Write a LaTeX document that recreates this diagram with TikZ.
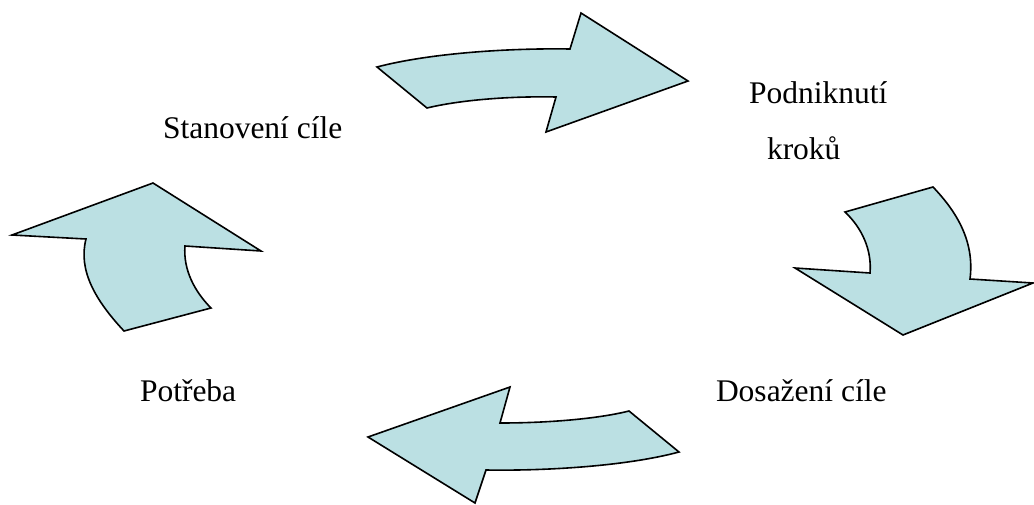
\documentclass[tikz,border=0pt]{standalone}
\usepackage{fontspec}
\setmainfont{Liberation Serif}
\definecolor{arrowfill}{RGB}{187,224,227}
\tikzset{
  bigarrow/.style={draw=black, line width=1.6pt, fill=arrowfill, line join=miter},
  lbl/.style={inner sep=0pt, outer sep=0pt, anchor=base west, font=\fontsize{31.5}{36}\selectfont}
}
\begin{document}
\begin{tikzpicture}[x=1pt,y=-1pt]
\useasboundingbox (0,0) rectangle (1034,504);
% top arrow (to the right)
\draw[bigarrow] (377,67) .. controls (430,53) and (510,48) .. (570,49)
  -- (581,13) -- (688,81) -- (546,132) -- (556,97)
  .. controls (510,96) and (460,100) .. (427,108) -- cycle;
% right arrow (downwards)
\draw[bigarrow] (933,187) -- (845,212)
  .. controls (862,228) and (872,250) .. (870,273)
  -- (795,268) -- (903,335) -- (1033,283) -- (970,279)
  .. controls (975,240) and (955,210) .. (933,187) -- cycle;
% bottom arrow (to the left)
\draw[bigarrow] (510,387) -- (500,423)
  .. controls (547,423) and (597,419) .. (629,411)
  -- (679,452)
  .. controls (627,466) and (547,471) .. (486,470)
  -- (475,503) -- (368,437) -- cycle;
% left arrow (upwards)
\draw[bigarrow] (153,183) -- (12,235) -- (86,239)
  .. controls (78,270) and (95,300) .. (124,331)
  -- (211,308)
  .. controls (195,292) and (183,270) .. (185,246)
  -- (261,251) -- cycle;
% labels
\node[lbl] (goal) at (163,138) {Stanovení cíle};
\node[lbl] (steps1) at (749,103) {Podniknutí};
\node[lbl] (steps2) at (767,159) {kroků};
\node[lbl] (reach) at (716,401) {Dosažení cíle};
\node[lbl] (need) at (140,401) {Potřeba};
\end{tikzpicture}
\end{document}
